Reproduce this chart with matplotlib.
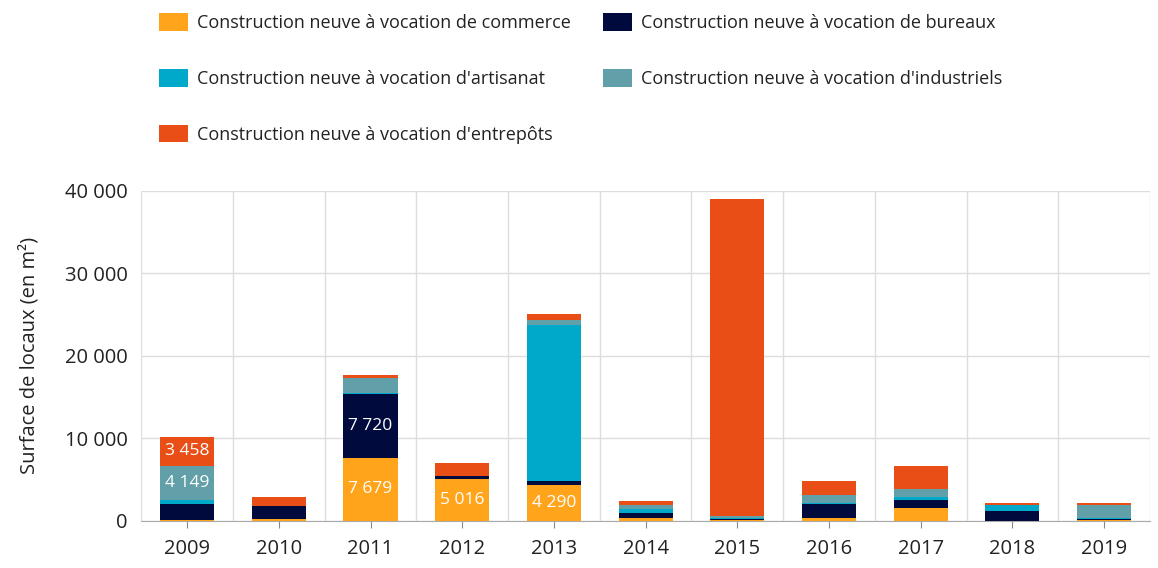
import numpy as np
import matplotlib.pyplot as plt
from matplotlib.ticker import FuncFormatter, MultipleLocator

plt.rcParams['font.family'] = ['Open Sans', 'DejaVu Sans']

# ---------------------- données ----------------------
annees = ['2009', '2010', '2011', '2012', '2013', '2014', '2015', '2016', '2017', '2018', '2019']
commerce = [50, 200, 7679, 5016, 4290, 300, 150, 400, 1600, 0, 150]
bureaux = [1950, 1600, 7720, 400, 500, 650, 50, 1600, 970, 1170, 50]
artisanat = [550, 0, 150, 0, 18900, 500, 150, 150, 330, 730, 100]
industriels = [4149, 0, 1800, 0, 650, 500, 200, 930, 1000, 0, 1600]
entrepots = [3458, 1100, 300, 1600, 700, 500, 38500, 1800, 2800, 320, 320]

series = [
    ('Construction neuve à vocation de commerce', commerce, '#FFA41B'),
    ('Construction neuve à vocation de bureaux', bureaux, '#000A3C'),
    ("Construction neuve à vocation d'artisanat", artisanat, '#00A8C9'),
    ("Construction neuve à vocation d'industriels", industriels, '#62A0A9'),
    ("Construction neuve à vocation d'entrepôts", entrepots, '#E84E15'),
]

# étiquettes affichées dans les barres (série, année)
etiquettes = {(0, 2), (0, 3), (0, 4), (1, 2), (3, 0), (4, 0)}


def fmt_milliers(v, pos=None):
    return f'{int(v):,}'.replace(',', ' ')


# ---------------------- graphique ----------------------
fig = plt.figure(figsize=(11.58, 5.68), dpi=100, facecolor='white')
ax = fig.add_axes([0.122, 0.083, 0.871, 0.581])

x = np.arange(len(annees))
bas = np.zeros(len(annees))
handles = []
for i, (nom, vals, couleur) in enumerate(series):
    vals = np.array(vals, dtype=float)
    b = ax.bar(x, vals, 0.59, bottom=bas, color=couleur, label=nom, zorder=3)
    handles.append(b)
    for j in range(len(annees)):
        if (i, j) in etiquettes:
            ax.text(x[j], bas[j] + vals[j] / 2, fmt_milliers(vals[j]), ha='center', va='center',
                    color='white', fontsize=12.5, zorder=4)
    bas += vals

ax.set_xlim(-0.5, len(annees) - 0.5)
ax.set_ylim(0, 40000)
ax.yaxis.set_major_locator(MultipleLocator(10000))
ax.yaxis.set_major_formatter(FuncFormatter(fmt_milliers))
ax.set_xticks(x)
ax.set_xticklabels(annees)
ax.set_xticks(np.arange(-0.5, len(annees), 1), minor=True)
ax.tick_params(axis='x', which='major', length=5, color='#888888', labelsize=14.5, pad=8, labelcolor='#222222')
ax.tick_params(axis='x', which='minor', length=0)
ax.tick_params(axis='y', length=0, labelsize=14.5, labelcolor='#222222', pad=10)
ax.grid(axis='y', which='major', color='#DDDDDD', linewidth=1, zorder=0)
ax.grid(axis='x', which='minor', color='#DDDDDD', linewidth=1, zorder=0)
for s in ['left', 'right', 'top']:
    ax.spines[s].set_visible(False)
ax.spines['bottom'].set_color('#AAAAAA')
ax.set_ylabel('Surface de locaux (en m²)', fontsize=14.5, color='#222222', labelpad=18)

# légende sur deux colonnes
ordre = [0, 2, 4, 1, 3]
leg = fig.legend([handles[k] for k in ordre], [series[k][0] for k in ordre],
                 loc='upper left', bbox_to_anchor=(0.1237, 1.005), ncol=2, frameon=False,
                 fontsize=13, handlelength=1.6, handleheight=1.1, handletextpad=0.5,
                 labelspacing=2.05, columnspacing=1.75)
for t in leg.get_texts():
    t.set_color('#222222')

plt.savefig('out.png', dpi=100, facecolor='white')
